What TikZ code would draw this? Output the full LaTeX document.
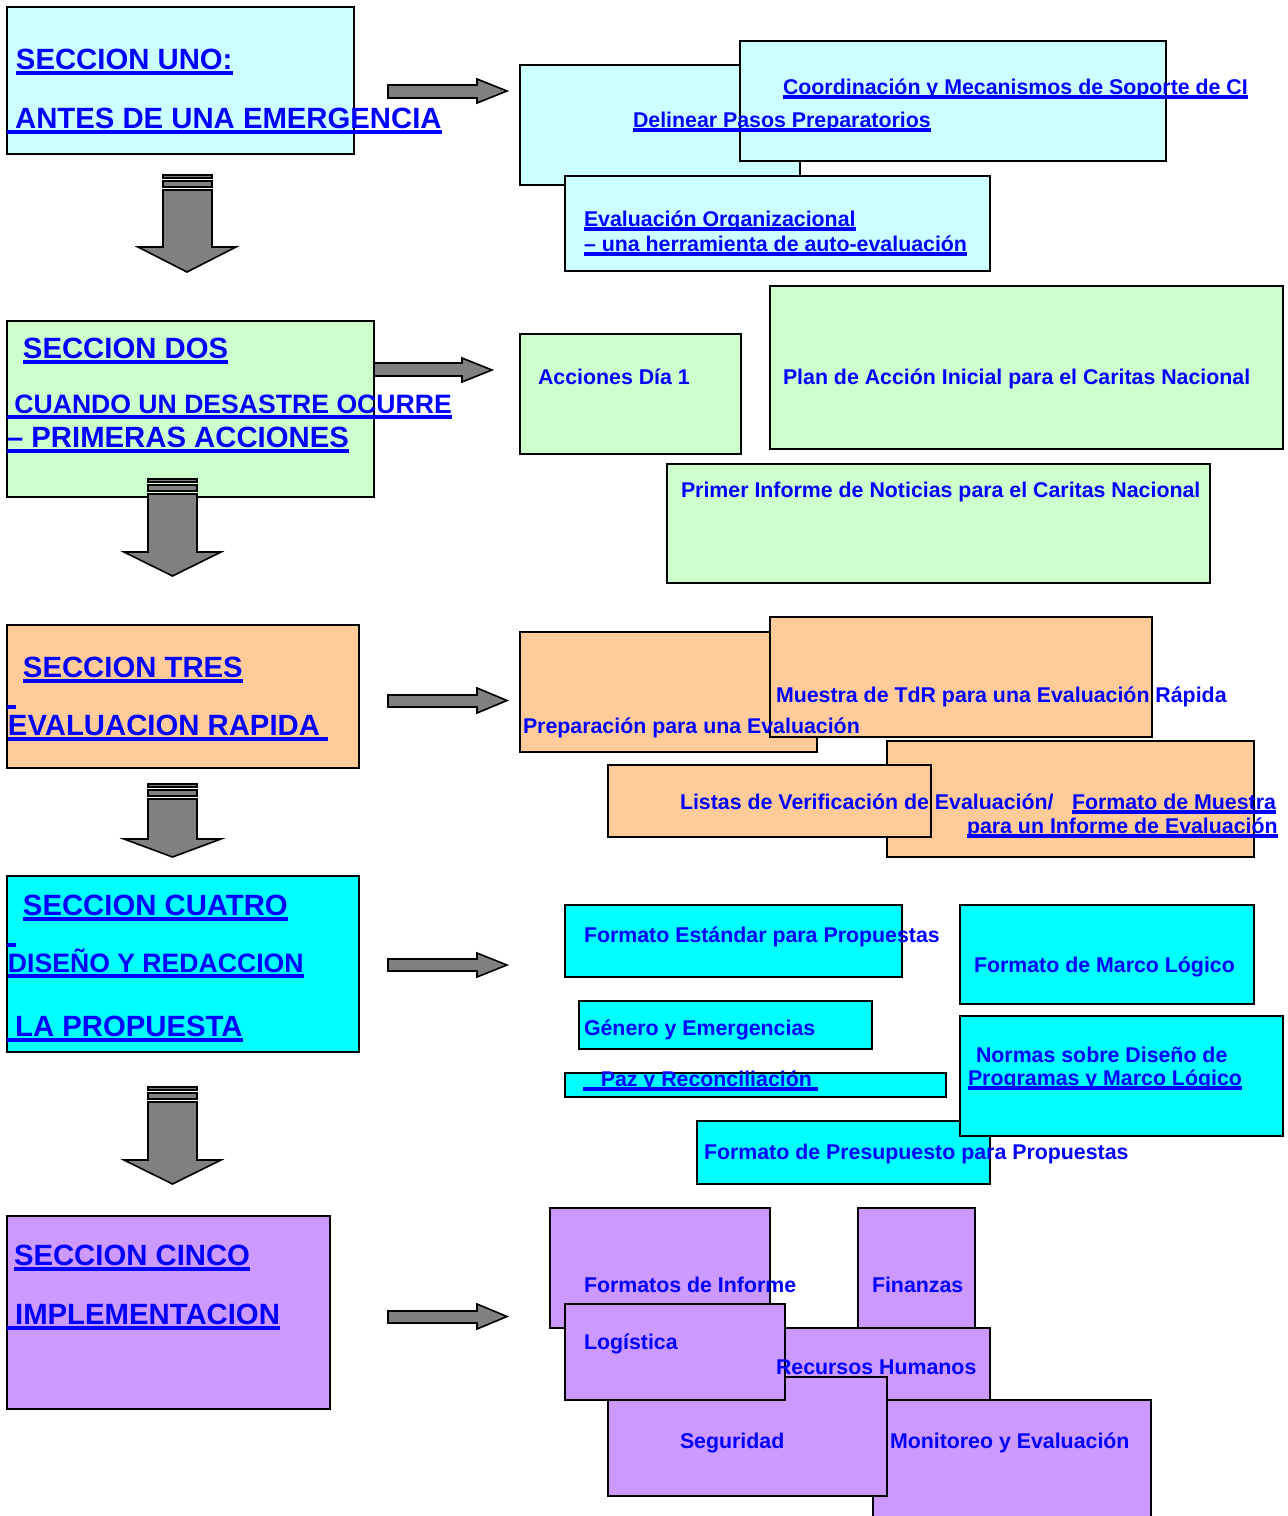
\documentclass[tikz,border=0pt]{standalone}
\usepackage{fontspec}
\setmainfont{Liberation Sans}
\usetikzlibrary{calc}
\definecolor{lcyan}{HTML}{CCFFFF}
\definecolor{lgreen}{HTML}{CCFFCC}
\definecolor{peach}{HTML}{FFCC99}
\definecolor{aqua}{HTML}{00FFFF}
\definecolor{lav}{HTML}{CC99FF}
\definecolor{agray}{HTML}{808080}
\definecolor{tblue}{HTML}{0000FF}
\tikzset{
  box/.style={draw=black, line width=1pt},
  txt/.style={inner sep=0pt, outer sep=0pt, anchor=base west, text=tblue,
    font=\bfseries\fontsize{10.67}{12}\selectfont},
  big/.style={txt, font=\bfseries\fontsize{14.65}{17}\selectfont},
  mid/.style={txt, font=\bfseries\fontsize{13.3}{16}\selectfont},
  ulsmall/.style={draw=tblue, line width=1.6pt},
  ulbig/.style={draw=tblue, line width=2pt},
  blockarrow/.style={draw=black, fill=agray, line width=0.8pt, line join=miter},
}
% name, node style, line style, position, offset, text
\newcommand\ultext[6]{%
  \node[#2] (#1) at (#4) {#6};
  \draw[#3] ($(#1.base west)+(0,#5)$) -- ($(#1.base east)+(0,#5)$);
}
% shaft left, shaft right, head left, head right, top, head base, tip
\newcommand\darrowblk[7]{%
  \draw[blockarrow] (#1,#5) rectangle (#2,#5+3);
  \draw[blockarrow] (#1,#5+6) rectangle (#2,#5+12);
  \draw[blockarrow] (#1,#5+15) -- (#1,#6) -- (#3,#6) -- ({(#3+#4)/2},#7) -- (#4,#6) -- (#2,#6) -- (#2,#5+15) -- cycle;
}
% x0, head base x, tip x, body top, body bottom, head top, head bottom
\newcommand\rarrowblk[7]{%
  \draw[blockarrow] (#1,#4) -- (#2,#4) -- (#2,#6) -- (#3,{(#6+#7)/2}) -- (#2,#7) -- (#2,#5) -- (#1,#5) -- cycle;
}
\begin{document}
\begin{tikzpicture}[x=0.5pt,y=-0.5pt]
\useasboundingbox (0,0) rectangle (1287,1516);

% ---------- section boxes ----------
\draw[box, fill=lcyan]  (7,7)    rectangle (354,154);
\draw[box, fill=lgreen] (7,321)  rectangle (374,497);
\draw[box, fill=peach]  (7,625)  rectangle (359,768);
\draw[box, fill=aqua]   (7,876)  rectangle (359,1052);
\draw[box, fill=lav]    (7,1216) rectangle (330,1409);

% ---------- down arrows ----------
\darrowblk{163}{212}{138}{236}{175}{247}{272}
\darrowblk{148}{197}{124}{221}{479}{552}{576}
\darrowblk{148}{197}{124}{221}{784}{839}{857}
\darrowblk{148}{197}{124}{221}{1087}{1160}{1184}

% ---------- right arrows ----------
\rarrowblk{388}{477}{507}{85}{98}{79}{103}
\rarrowblk{374}{462}{492}{363}{376}{358}{382}
\rarrowblk{388}{477}{507}{695}{707}{688}{713}
\rarrowblk{388}{477}{507}{959}{971}{953}{977}
\rarrowblk{388}{477}{507}{1311}{1323}{1304}{1329}

% ---------- section 1 boxes ----------
\draw[box, fill=lcyan] (520,65)  rectangle (800,185);
\draw[box, fill=lcyan] (740,41)  rectangle (1166,161);
\draw[box, fill=lcyan] (565,176) rectangle (990,271);

% ---------- section 2 boxes ----------
\draw[box, fill=lgreen] (520,334) rectangle (741,454);
\draw[box, fill=lgreen] (770,286) rectangle (1283,449);
\draw[box, fill=lgreen] (667,464) rectangle (1210,583);

% ---------- section 3 boxes ----------
\draw[box, fill=peach] (520,632) rectangle (817,752);
\draw[box, fill=peach] (770,617) rectangle (1152,737);
\draw[box, fill=peach] (887,741) rectangle (1254,857);
\draw[box, fill=peach] (608,765) rectangle (931,837);

% ---------- section 4 boxes ----------
\draw[box, fill=aqua] (565,905)  rectangle (902,977);
\draw[box, fill=aqua] (960,905)  rectangle (1254,1004);
\draw[box, fill=aqua] (579,1001) rectangle (872,1049);
\draw[box, fill=aqua] (565,1073) rectangle (946,1097);
\draw[box, fill=aqua] (697,1121) rectangle (990,1184);
\draw[box, fill=aqua] (960,1016) rectangle (1283,1136);

% ---------- section 5 boxes ----------
\draw[box, fill=lav] (550,1208) rectangle (770,1328);
\draw[box, fill=lav] (858,1208) rectangle (975,1328);
\draw[box, fill=lav] (700,1328) rectangle (990,1400);
\draw[box, fill=lav] (873,1400) rectangle (1151,1530);
\draw[box, fill=lav] (608,1377) rectangle (887,1496);
\draw[box, fill=lav] (565,1304) rectangle (785,1400);

% ---------- texts: section headings ----------
\ultext{s1a}{big}{ulbig}{16,69}{4}{SECCION UNO:}
\ultext{s1b}{big}{ulbig}{7,128}{4}{\ ANTES DE UNA EMERGENCIA}
\ultext{s2a}{big}{ulbig}{23,358}{4}{SECCION DOS}
\ultext{s2b}{mid}{ulbig}{7,413}{4}{\ CUANDO UN DESASTRE OCURRE}
\ultext{s2c}{big}{ulbig}{7,447}{4}{– PRIMERAS ACCIONES}
\ultext{s3a}{big}{ulbig}{23,677}{4}{SECCION TRES}
\coordinate (d3a) at (7,707);
\coordinate (d3b) at (16,707);
\draw[ulbig] (d3a) -- (d3b);
\ultext{s3b}{big}{ulbig}{8,735}{4}{EVALUACION RAPIDA\kern4pt}
\ultext{s4a}{big}{ulbig}{23,915}{4}{SECCION CUATRO}
\coordinate (d4a) at (7,945);
\coordinate (d4b) at (16,945);
\draw[ulbig] (d4a) -- (d4b);
\ultext{s4b}{mid}{ulbig}{8,972}{4}{DISEÑO Y REDACCION}
\ultext{s4c}{big}{ulbig}{7,1036}{4}{\ LA PROPUESTA}
\ultext{s5a}{big}{ulbig}{14,1265}{4}{SECCION CINCO}
\ultext{s5b}{big}{ulbig}{7,1324}{4}{\ IMPLEMENTACION}

% ---------- texts: section 1 items ----------
\ultext{t11}{txt}{ulsmall}{633,127}{3}{Delinear Pasos Preparatorios}
\ultext{t12}{txt}{ulsmall}{783,94}{3}{Coordinación y Mecanismos de Soporte de CI}
\ultext{t13}{txt}{ulsmall}{584,226}{3}{Evaluación Organizacional}
\ultext{t14}{txt}{ulsmall}{584,251}{3}{– una herramienta de auto-evaluación}

% ---------- texts: section 2 items ----------
\node[txt] (t21) at (538,384) {Acciones Día 1};
\node[txt] (t22) at (783,384) {Plan de Acción Inicial para el Caritas Nacional};
\node[txt] (t23) at (681,497) {Primer Informe de Noticias para el Caritas Nacional};

% ---------- texts: section 3 items ----------
\node[txt] (t31) at (523,733) {Preparación para una Evaluación};
\node[txt] (t32) at (776,702) {Muestra de TdR para una Evaluación Rápida};
\node[txt] (t33) at (680,809) {Listas de Verificación de Evaluación/};
\ultext{t34}{txt}{ulsmall}{1072,809}{3}{Formato de Muestra}
\ultext{t35}{txt}{ulsmall}{967,833}{3}{para un Informe de Evaluación}

% ---------- texts: section 4 items ----------
\node[txt] (t41) at (584,942) {Formato Estándar para Propuestas};
\node[txt] (t42) at (974,972) {Formato de Marco Lógico};
\node[txt] (t43) at (584,1035) {Género y Emergencias};
\ultext{t44}{txt}{ulsmall}{583,1086}{3}{\ \ \ Paz y Reconciliación\kern3pt}
\node[txt] (t45) at (976,1062) {Normas sobre Diseño de};
\ultext{t46}{txt}{ulsmall}{968,1085}{3}{Programas y Marco Lógico}
\node[txt] (t47) at (704,1159) {Formato de Presupuesto para Propuestas};

% ---------- texts: section 5 items ----------
\node[txt] (t51) at (584,1292) {Formatos de Informe};
\node[txt] (t52) at (872,1292) {Finanzas};
\node[txt] (t53) at (776,1374) {Recursos Humanos};
\node[txt] (t54) at (584,1349) {Logística};
\node[txt] (t55) at (680,1448) {Seguridad};
\node[txt] (t56) at (890,1448) {Monitoreo y Evaluación};
\end{tikzpicture}
\end{document}
